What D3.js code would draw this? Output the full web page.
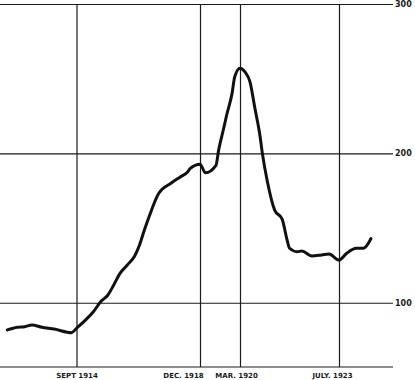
<!DOCTYPE html>
<html>
<head>
  <meta charset="utf-8">
  <script src="https://cdn.jsdelivr.net/npm/d3@7"></script>
  <style>
    body { margin: 0; background: #fff; }
    svg { display: block; }
  </style>
</head>
<body>
<svg width="415" height="380"></svg>
<script>
  // index readings, month by month
  var months = [
    "1912-05", "1912-09", "1912-12", "1913-03", "1913-07", "1913-12", "1914-07",
    "1914-09", "1915-01", "1915-04", "1915-07", "1915-10", "1915-12", "1916-03",
    "1916-06", "1916-09", "1916-11", "1917-01", "1917-03", "1917-07", "1917-12",
    "1918-04", "1918-07", "1918-08", "1918-12", "1919-02", "1919-06", "1919-07",
    "1919-09", "1919-10", "1919-12", "1920-01", "1920-03", "1920-05", "1920-07",
    "1920-09", "1920-11", "1920-12", "1921-02", "1921-05", "1921-08", "1921-10",
    "1921-11", "1922-02", "1922-04", "1922-08", "1922-12", "1923-03", "1923-07",
    "1923-10", "1924-02", "1924-05", "1924-08"
  ];
  var values = [
    81.8, 83.6, 84, 85.1, 83.6, 82.4, 79.9,
    82.9, 88.9, 94, 100.7, 105.2, 110.7, 119.7,
    125.3, 131.3, 138.7, 148.7, 157.6, 173.3, 180,
    184.4, 187.7, 190, 192.8, 187, 192, 202,
    217.8, 225.7, 240, 251.3, 257, 254.5, 248,
    230, 212, 200, 181, 162, 156, 142,
    136.5, 134.2, 134.6, 131.3, 132, 132.6, 128.6,
    133, 136.5, 136.5, 143
  ];

  var markDates = ["1914-09", "1918-12", "1920-03", "1923-07"];
  var markLabels = ["SEPT 1914", "DEC. 1918", "MAR. 1920", "JULY. 1923"];
  var yTicks = [100, 200, 300];

  var parse = d3.timeParse("%Y-%m");
  var data = months.map(function (m, i) { return { date: parse(m), value: values[i] }; });
  var marks = markDates.map(parse);

  var svg = d3.select("svg");

  // piecewise time scale so the four marked months land on their rules
  var x = d3.scaleTime()
      .domain([parse("1912-02")].concat(marks, [parse("1925-05")]))
      .range([0, 76.5, 200, 240, 339, 393]);

  var y = d3.scaleLinear()
      .domain([57, 300])
      .range([367, 4]);

  var ink = "#1a1a1a";

  // horizontal rules, with the value scale on the right
  var yAxis = d3.axisRight(y)
      .tickValues(yTicks)
      .tickSize(-393)
      .tickPadding(2);

  var ya = svg.append("g")
      .attr("transform", "translate(393,0)")
      .call(yAxis);
  ya.select(".domain").remove();
  ya.selectAll("line").attr("stroke", ink).attr("stroke-width", 1.1);
  ya.selectAll("text")
      .attr("fill", ink)
      .attr("font-family", "DejaVu Sans, sans-serif")
      .attr("font-size", 8)
      .attr("font-weight", "bold");

  // base line
  svg.append("line")
      .attr("x1", 0).attr("x2", 393)
      .attr("y1", y(57)).attr("y2", y(57))
      .attr("stroke", ink).attr("stroke-width", 1.1);

  // vertical rules at the marked months
  var xAxis = d3.axisBottom(x)
      .tickValues(marks)
      .tickSize(-(y(57) - y(300)))
      .tickFormat(function (d, i) { return markLabels[i]; });

  var xa = svg.append("g")
      .attr("transform", "translate(0," + y(57) + ")")
      .call(xAxis);
  xa.select(".domain").remove();
  xa.selectAll("line").attr("stroke", ink).attr("stroke-width", 1.2);

  var labelShift = [0, -17, -4, -7];
  xa.selectAll("text")
      .attr("fill", ink)
      .attr("font-family", "DejaVu Sans, sans-serif")
      .attr("font-size", 7)
      .attr("font-weight", "bold")
      .attr("y", 6)
      .attr("dy", "0.71em")
      .attr("x", function (d, i) { return labelShift[i]; });

  var line = d3.line()
      .x(function (d) { return x(d.date); })
      .y(function (d) { return y(d.value); })
      .curve(d3.curveMonotoneX);

  svg.append("path")
      .datum(data)
      .attr("fill", "none")
      .attr("stroke", "#111")
      .attr("stroke-width", 3)
      .attr("stroke-linejoin", "round")
      .attr("stroke-linecap", "round")
      .attr("d", line);
</script>
</body>
</html>
